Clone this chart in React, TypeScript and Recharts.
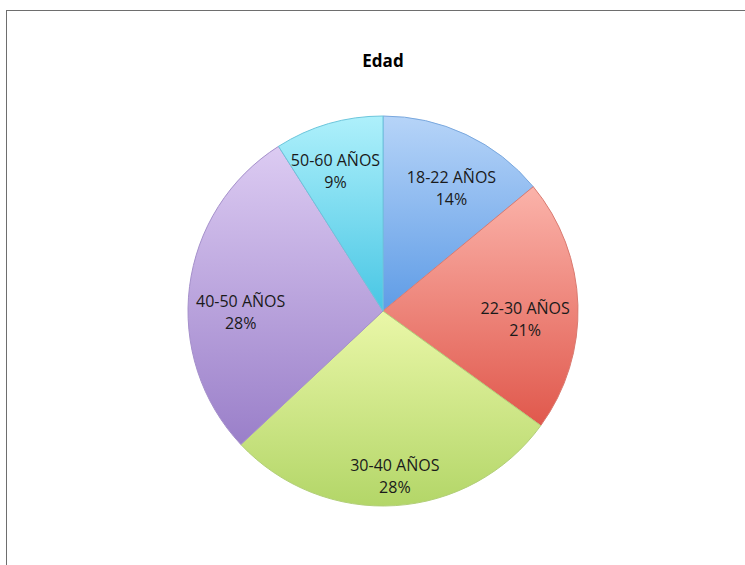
import { PieChart, Pie, Cell } from "recharts";

const categories = ["18-22 AÑOS", "22-30 AÑOS", "30-40 AÑOS", "40-50 AÑOS", "50-60 AÑOS"];
const shares = [14, 21, 28, 28, 9];

const colorsTop = ["#b6d4f8", "#fbb3aa", "#eaf7a8", "#dccbf2", "#aef0fb"];
const colorsBottom = ["#5f9ce6", "#e0584c", "#b3d668", "#9a7fc9", "#48c6e4"];
const edgeColors = ["#7aa8de", "#da7a70", "#b2cf78", "#a590cb", "#6cc6dc"];

// label placement tweaks (radius fraction, angle nudge in degrees)
const labelR = [0.72, 0.73, 0.85, 0.73, 0.76];
const labelNudge = [-4, -5, 0.5, 7.5, 2.5];

const data = categories.map((name, i) => ({ name, value: shares[i] }));

const FONT = "'Open Sans', 'DejaVu Sans', sans-serif";
const RADIAN = Math.PI / 180;

function renderLabel(props: any) {
  const { cx, cy, midAngle, outerRadius, index, name, percent } = props;
  const r = outerRadius * labelR[index];
  const a = (midAngle + labelNudge[index]) * RADIAN;
  const x = cx + r * Math.cos(a);
  const y = cy - r * Math.sin(a);
  return (
    <text
      x={x}
      y={y}
      textAnchor="middle"
      fontFamily={FONT}
      fontSize={16}
      fill="#1a1a1a"
    >
      <tspan x={x} dy={-5}>
        {name}
      </tspan>
      <tspan x={x} dy={22}>
        {`${Math.round(percent * 100)}%`}
      </tspan>
    </text>
  );
}

export default function App() {
  return (
    <div
      style={{
        position: "fixed",
        left: 0,
        top: 0,
        width: 745,
        height: 565,
        overflow: "hidden",
        background: "#fff",
      }}
    >
      <div
        style={{
          position: "absolute",
          left: 6,
          top: 10,
          width: 800,
          height: 600,
          borderLeft: "1.5px solid #6e6e6e",
          borderTop: "1.5px solid #6e6e6e",
        }}
      />
      <div style={{ position: "absolute", left: 0, top: 0 }}>
        <PieChart width={745} height={565} margin={{ top: 0, right: 0, bottom: 0, left: 0 }}>
          <defs>
            {categories.map((c, i) => (
              <linearGradient key={c} id={`g${i}`} x1="0" y1="0" x2="0" y2="1">
                <stop offset="0%" stopColor={colorsTop[i]} />
                <stop offset="100%" stopColor={colorsBottom[i]} />
              </linearGradient>
            ))}
          </defs>
          <text
            x={383}
            y={67}
            textAnchor="middle"
            fontFamily={FONT}
            fontSize={17}
            fontWeight="bold"
            fill="#000"
          >
            Edad
          </text>
          <Pie
            data={data}
            dataKey="value"
            nameKey="name"
            cx={383}
            cy={311}
            outerRadius={195}
            startAngle={90}
            endAngle={-270}
            labelLine={false}
            label={renderLabel}
            isAnimationActive={false}
          >
            {data.map((d, i) => (
              <Cell key={d.name} fill={`url(#g${i})`} stroke={edgeColors[i]} strokeWidth={1} />
            ))}
          </Pie>
        </PieChart>
      </div>
    </div>
  );
}
